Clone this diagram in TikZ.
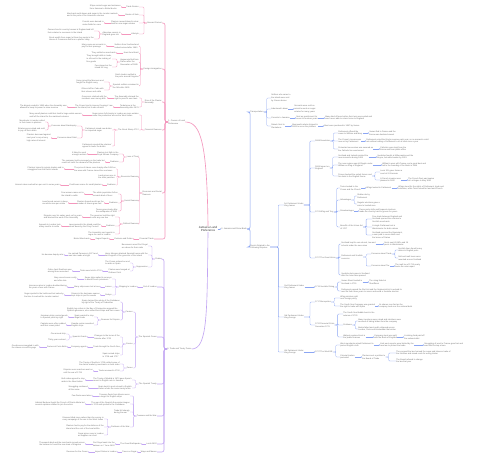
\documentclass[tikz,border=0pt]{standalone}
\usepackage{fontspec}
\setmainfont{Liberation Sans}
\usepackage{xcolor}
\usetikzlibrary{arrows.meta}
\definecolor{ink}{HTML}{707070}
\definecolor{rootink}{HTML}{383838}
\definecolor{pinkc}{HTML}{F497BD}
\definecolor{purpc}{HTML}{C3A6F3}
\definecolor{bluec}{HTML}{8CA6F3}
\tikzset{
  every node/.style={font=\fontsize{2.9}{3.8}\selectfont,text=ink,inner sep=0.3pt,align=left},
  lt/.style={anchor=east},
  rt/.style={anchor=west},
  rootbox/.style={font=\fontsize{4.2}{5}\selectfont,text=rootink,align=center},
  pk/.style={draw=pinkc,line width=0.45pt,rounded corners=1.4pt},
  pu/.style={draw=purpc,line width=0.45pt,rounded corners=1.4pt},
  bl/.style={draw=bluec,line width=0.45pt,rounded corners=1.4pt},
  lvl1/.style={line width=0.9pt,rounded corners=3pt},
  tipped/.style={-{Stealth[length=1.6pt,width=1.8pt]}},
  lbr/.style={to path={-- ++(-#1,0) |- (\tikztotarget)}},
  lbr/.default=3,
  rbr/.style={to path={-- ++(#1,0) |- (\tikztotarget)}},
  rbr/.default=3,
}
\begin{document}
\begin{tikzpicture}[x=0.05cm,y=-0.05cm]
  \fill[white] (0,0) rectangle (500,459);
  \useasboundingbox (0,0) rectangle (500,459);

  \node[rootbox] (root) at (208,229) {Jamaica Land\\Preference};
  \node[rt] (p0) at (168,122) {1. Causes of Land\\Preference};
  \node[rt,font=\fontsize{3}{3.8}\selectfont] (b0) at (221,229) {2. Jamaica and Drew Bank};
  \node[rt] (q0) at (167,349) {3. Trade and Treaty Terms};
  \draw[pk,lvl1] (root.north) .. controls +(-1,-80) and +(16,0) .. (p0.east);
  \draw[pu,lvl1] (root.south) .. controls +(-1,80) and +(16,0) .. (q0.east);
  \draw[bl,lvl1,tipped] (root) -- (b0);

  % pink branch
  \node[lt] (p1) at (162,23) {Itinerant Protest};
  \node[lt] (p2) at (162,69) {Foreign Immigration};
  \node[lt] (p3) at (162,102) {Rise of the Planter\\Assembly};
  \node[lt] (p4) at (162,130) {Financial Reasons};
  \node[lt] (p5) at (162,193) {Economic and Social\\Reasons};
  \node[lt] (p6) at (154,239) {Financial Trade};
  \draw[pk,lvl1] (p0.west) to[lbr] (p1.east); \draw[pk,lvl1] (p0.west) to[lbr] (p2.east);
  \draw[pk,lvl1] (p0.west) to[lbr] (p3.east); \draw[pk,lvl1] (p0.west) to[lbr] (p4.east);
  \draw[pk,lvl1] (p0.west) to[lbr] (p5.east); \draw[pk,lvl1] (p0.west) to[lbr] (p6.east);

  \node[lt] (p11) at (139,7) {Trade Routes};
  \node[lt] (p11a) at (121,7) {Ships carried sugar and molasses\\from Jamaica to Bristol docks};
  \node[lt] (p12) at (139,15) {Routes of Sale};
  \node[lt] (p12a) at (118,15) {Merchants sold slaves and sugar in the London markets\\and in the ports of the American colonies};
  \node[lt] (p13) at (139,23) {Planters moved inland to clear\\land for new sugar estates};
  \node[lt] (p13a) at (104,23) {Forests were burned to\\make fields for cane};
  \node[lt] (p14) at (139,34) {Lifestyle};
  \node[lt] (p14a) at (121,34) {Absentee owners in\\England grew rich};
  \node[lt] (p14a1) at (94,31) {Owners lived in country houses in England and left\\their estates to overseers in the island};
  \node[lt] (p14a2) at (94,39) {Great wealth from sugar let them buy seats in the\\House of Commons and form a planter lobby};
  \draw[pk] (p1.west) to[lbr] (p11.east); \draw[pk] (p1.west) to[lbr] (p12.east);
  \draw[pk] (p1.west) to[lbr] (p13.east); \draw[pk] (p1.west) to[lbr] (p14.east);
  \draw[pk,tipped] (p11) -- (p11a); \draw[pk,tipped] (p12) -- (p12a);
  \draw[pk,tipped] (p13) -- (p13a); \draw[pk,tipped] (p14) -- (p14a);
  \draw[pk] (p14a.west) to[lbr] (p14a1.east); \draw[pk] (p14a.west) to[lbr] (p14a2.east);

  \node[lt] (p21) at (139,46) {Settlers from Scotland and\\Ireland arrived after 1660};
  \node[lt] (p21a) at (106,46) {Many came as servants to\\pay for their passage};
  \node[lt] (p22) at (139,53) {Jews from Brazil};
  \node[lt] (p22a) at (116,53) {They settled as merchants};
  \node[lt] (p23) at (139,62) {Huguenots fled from\\France after the\\Revocation of 1685};
  \node[lt] (p23a) at (112,59) {They brought skills in trade,\\in silk and in the making of\\fine goods};
  \node[lt] (p23b) at (112,67) {Few stayed on the\\island for long};
  \node[lt] (p24) at (139,76) {Dutch traders settled in\\the ports around Kingston};
  \node[lt] (p25) at (139,86) {Spanish settlers remained in\\the hills after 1655};
  \node[lt] (p25a) at (104,82) {Some joined the Maroons and\\fought the English army};
  \node[lt] (p25b) at (104,90) {Others left for Cuba with\\their slaves and cattle};
  \draw[pk] (p2.west) to[lbr] (p21.east); \draw[pk] (p2.west) to[lbr] (p22.east);
  \draw[pk] (p2.west) to[lbr] (p23.east); \draw[pk] (p2.west) to[lbr] (p24.east);
  \draw[pk] (p2.west) to[lbr] (p25.east);
  \draw[pk,tipped] (p21) -- (p21a); \draw[pk,tipped] (p22) -- (p22a);
  \draw[pk] (p23.west) to[lbr] (p23a.east); \draw[pk] (p23.west) to[lbr] (p23b.east);
  \draw[pk] (p25.west) to[lbr] (p25a.east); \draw[pk] (p25.west) to[lbr] (p25b.east);

  \node[lt] (p31) at (139,98) {The Assembly claimed the\\right to pass its own laws};
  \node[lt] (p31a) at (107,98) {Governors clashed with the\\members over money bills};
  \node[lt] (p32) at (139,107) {Turbulence in the\\Assembly after 1678};
  \node[lt] (p32a) at (113,107) {The Crown tried to impose Poynings' Law\\on the island, but it was refused};
  \node[lt] (p32b) at (67,107) {The dispute ended in 1680 when the Assembly was\\allowed to keep its power to raise revenue};
  \draw[pk] (p3.west) to[lbr] (p31.east); \draw[pk] (p3.west) to[lbr] (p32.east);
  \draw[pk,tipped] (p31) -- (p31a); \draw[pk,tipped] (p32) -- (p32a); \draw[pk,tipped] (p32a) -- (p32b);

  \node[lt] (p41) at (139,115) {Sugar prices fell sharply in London as more estates\\came into production across the West Indies};
  \node[lt] (p41a) at (82,115) {Many small planters sold their land to large estate owners\\and left the island for the mainland colonies};
  \node[lt] (p42) at (139,130) {The Great Slump 1712};
  \node[lt] (p421) at (112,130) {Parliament raised new duties\\on imported sugar};
  \node[lt] (p4211) at (77,126) {Concerns about Bankruptcy};
  \node[lt] (p42111) at (45,122) {Merchants in London called\\in their loans to planters};
  \node[lt] (p42112) at (45,130) {Estates were seized and sold\\to pay off their debts};
  \node[lt] (p4212) at (77,138) {Concerns about Debt};
  \node[lt] (p4212a) at (51,138) {Planters borrowed against\\next year's crop at very\\high rates of interest};
  \node[lt] (p422) at (112,146) {Parliament rejected the planters'\\appeal to lower the duties};
  \draw[pk] (p4.west) to[lbr] (p41.east); \draw[pk] (p4.west) to[lbr] (p42.east);
  \draw[pk,tipped] (p41) -- (p41a);
  \draw[pk] (p42.west) to[lbr] (p421.east); \draw[pk] (p42.west) to[lbr] (p422.east);
  \draw[pk] (p421.west) to[lbr] (p4211.east); \draw[pk] (p421.west) to[lbr] (p4212.east);
  \draw[pk] (p4211.west) to[lbr] (p42111.east); \draw[pk] (p4211.west) to[lbr] (p42112.east);
  \draw[pk,tipped] (p4212) -- (p4212a);

  \node[lt] (p51) at (139,157) {Loss of Trust};
  \node[lt] (p511) at (119,154) {Planters lost faith in the\\Royal African Company};
  \node[lt] (p511a) at (87,154) {It failed to send\\enough workers};
  \node[lt] (p512) at (119,162) {Problems};
  \node[lt] (p512a) at (105,162) {The company held a monopoly on the trade but\\could not meet the demand of the planters};
  \node[lt] (p52) at (139,177) {Economic Reasons};
  \node[lt] (p521) at (116,169) {The price of slaves rose sharply after 1690 as\\the wars with France closed the sea lanes};
  \node[lt] (p521a) at (64,169) {Planters turned to private traders and to\\smugglers from the Dutch islands};
  \node[lt] (p522) at (116,177) {Land prices rose in\\the older parishes};
  \node[lt] (p523) at (116,185) {Problems};
  \node[lt] (p523a) at (102,185) {Credit was scarce for small planters};
  \node[lt] (p523b) at (60,185) {Interest rates reached ten per cent in some years};
  \node[lt] (p53) at (139,201) {Social Reasons};
  \node[lt] (p531) at (118,194) {The white population fell as\\servants died of fever};
  \node[lt] (p531a) at (84,194) {Few women came out to\\the island to settle};
  \node[lt] (p532) at (118,203) {Problems};
  \node[lt] (p532a) at (104,203) {Planters feared revolts as the\\number of slaves grew fast};
  \node[lt] (p532b) at (68,203) {Laws forced owners to keep\\one white man per estate};
  \node[lt] (p533) at (118,211) {Towns grew slowly after\\the earthquake of 1692};
  \node[lt] (p54) at (139,224) {Political Reasons};
  \node[lt] (p541) at (115,217) {The governor held the right\\to veto any new law};
  \node[lt] (p541a) at (82,217) {Disputes over his salary went on for years\\and blocked the work of the Assembly};
  \node[lt] (p542) at (115,226) {Problems};
  \node[lt] (p542a) at (101,226) {Laws passed in the island could be\\struck down by the Privy Council};
  \node[lt] (p542b) at (61,226) {Appeals to London took\\many months to settle};
  \node[lt] (p543) at (115,234) {The Assembly sent agents to\\argue its case in London};
  \draw[pk] (p5.west) to[lbr] (p51.east); \draw[pk] (p5.west) to[lbr] (p52.east);
  \draw[pk] (p5.west) to[lbr] (p53.east); \draw[pk] (p5.west) to[lbr] (p54.east);
  \draw[pk] (p51.west) to[lbr] (p511.east); \draw[pk] (p51.west) to[lbr] (p512.east);
  \draw[pk,tipped] (p511) -- (p511a); \draw[pk,tipped] (p512) -- (p512a);
  \draw[pk] (p52.west) to[lbr] (p521.east); \draw[pk] (p52.west) to[lbr] (p522.east);
  \draw[pk] (p52.west) to[lbr] (p523.east);
  \draw[pk,tipped] (p521) -- (p521a); \draw[pk,tipped] (p523) -- (p523a); \draw[pk,tipped] (p523a) -- (p523b);
  \draw[pk] (p53.west) to[lbr] (p531.east); \draw[pk] (p53.west) to[lbr] (p532.east);
  \draw[pk] (p53.west) to[lbr] (p533.east);
  \draw[pk,tipped] (p531) -- (p531a); \draw[pk,tipped] (p532) -- (p532a); \draw[pk,tipped] (p532a) -- (p532b);
  \draw[pk] (p54.west) to[lbr] (p541.east); \draw[pk] (p54.west) to[lbr] (p542.east);
  \draw[pk] (p54.west) to[lbr] (p543.east);
  \draw[pk,tipped] (p541) -- (p541a); \draw[pk,tipped] (p542) -- (p542a); \draw[pk,tipped] (p542a) -- (p542b);

  \node[lt] (p6a) at (133,239) {Customs and Duties};
  \node[lt] (p6b) at (109,239) {Sugar Exports};
  \node[lt] (p6c) at (90,239) {Bristol Merchants};
  \draw[pk,tipped] (p6) -- (p6a); \draw[pk,tipped] (p6a) -- (p6b); \draw[pk,tipped] (p6b) -- (p6c);

  % purple branch
  \node[lt] (q1) at (162,259) {Pirates};
  \node[lt] (q2) at (157,287) {Port of London};
  \node[lt] (q3) at (157,337) {The Spanish Crown};
  \node[lt] (q4) at (157,384) {The Spanish Treaty};
  \node[lt] (q5) at (157,416) {Treasure and the War};
  \node[lt] (q6) at (157,444) {Lords 1692};
  \node[lt] (q7) at (157,452) {Ways and Means};
  \draw[pu,lvl1] (q0.west) to[lbr] (q1.east); \draw[pu,lvl1] (q0.west) to[lbr] (q2.east);
  \draw[pu,lvl1] (q0.west) to[lbr] (q3.east); \draw[pu,lvl1] (q0.west) to[lbr] (q4.east);
  \draw[pu,lvl1] (q0.west) to[lbr] (q5.east); \draw[pu,lvl1] (q0.west) to[lbr] (q6.east);
  \draw[pu,lvl1] (q0.west) to[lbr] (q7.east);

  \node[lt] (q11) at (148,246) {Buccaneers used Port Royal\\as a base for their raids};
  \node[lt] (q12) at (148,255) {Henry Morgan attacked Spanish towns with the\\tacit support of the governor of the island};
  \node[lt] (q12a) at (98,255) {He sacked Panama in 1671 and\\was later made a knight};
  \node[lt] (q12b) at (64,255) {He became deputy ruler};
  \node[lt] (q13) at (148,267) {Suppression};
  \node[lt] (q131) at (130,263) {The Crown ordered an end\\to raids on Spain};
  \node[lt] (q132) at (130,271) {Pirates were hanged at\\Gallows Point};
  \node[lt] (q132a) at (102,271) {Trials were held in 1720};
  \node[lt] (q132b) at (72,271) {Calico Jack Rackham was\\among those executed};
  \draw[pu] (q1.west) to[lbr] (q11.east); \draw[pu] (q1.west) to[lbr] (q12.east);
  \draw[pu] (q1.west) to[lbr] (q13.east);
  \draw[pu,tipped] (q12) -- (q12a); \draw[pu,tipped] (q12a) -- (q12b);
  \draw[pu] (q13.west) to[lbr] (q131.east); \draw[pu] (q13.west) to[lbr] (q132.east);
  \draw[pu,tipped] (q132) -- (q132a); \draw[pu,tipped] (q132a) -- (q132b);

  \node[lt] (q2a) at (137,287) {Shipping to London};
  \node[lt] (q2a1) at (112,279) {Sugar ships sailed in convoys\\to avoid French privateers};
  \node[lt] (q2a1a) at (77,279) {Navy escorts were costly\\and often late};
  \node[lt] (q2a2) at (112,287) {Losses};
  \node[lt] (q2a2a) at (100,287) {Many ships were lost at sea};
  \node[lt] (q2a2b) at (67,287) {Insurance rates in London doubled during\\the years of war with France};
  \node[lt] (q2a3) at (112,295) {Delays};
  \node[lt] (q2a3a) at (100,295) {Storms in the hurricane season\\kept ships in port for weeks};
  \node[lt] (q2a3b) at (64,295) {Sugar spoiled in the holds and lost value by\\the time it reached the London market};
  \draw[pu,tipped] (q2) -- (q2a);
  \draw[pu] (q2a.west) to[lbr] (q2a1.east); \draw[pu] (q2a.west) to[lbr] (q2a2.east);
  \draw[pu] (q2a.west) to[lbr] (q2a3.east);
  \draw[pu,tipped] (q2a1) -- (q2a1a); \draw[pu,tipped] (q2a2) -- (q2a2a); \draw[pu,tipped] (q2a2a) -- (q2a2b);
  \draw[pu,tipped] (q2a3) -- (q2a3a); \draw[pu,tipped] (q2a3a) -- (q2a3b);

  \node[lt] (q31) at (133,312) {Causes};
  \node[lt] (q311) at (120,302) {Spain claimed the whole of the Caribbean\\by right of the Treaty of Tordesillas};
  \node[lt] (q312) at (120,310) {English log cutters in the Bay of Campeche angered the\\Spanish governors, who seized their ships and their crews};
  \node[lt] (q313) at (120,320) {Reasons for Dispute};
  \node[lt] (q3131) at (94,317) {Spain wanted to stop\\illegal trade};
  \node[lt] (q3131a) at (68,317) {Jamaican ships carried goods\\to Spanish ports by night};
  \node[lt] (q3132) at (94,325) {Guarda costas searched\\English ships};
  \node[lt] (q3132a) at (66,325) {Captains were often robbed\\and their crews jailed};
  \node[lt] (q32) at (133,344) {Course};
  \node[lt] (q321) at (120,337) {Changes to the terms of the\\Asiento after 1713};
  \node[lt] (q321a) at (87,337) {Spanish Grants};
  \node[lt] (q321a1) at (66,334) {One annual ship};
  \node[lt] (q321a2) at (66,340) {Thirty-year contract};
  \node[lt] (q322) at (120,347) {Trade through the South Sea};
  \node[lt] (q322a) at (87,347) {Company agents};
  \node[lt] (q322b) at (67,347) {Factors at Porto Bello};
  \node[lt] (q322c) at (39,347) {Goods were smuggled in with\\the slaves on each voyage};
  \node[lt] (q323) at (120,355) {Spain seized ships\\in 1718 and 1727};
  \node[lt] (q33) at (133,368) {Peace};
  \node[lt] (q331) at (120,364) {The Treaty of Seville in 1729 settled some of\\the claims made by merchants on both sides};
  \node[lt] (q332) at (120,371) {Trade resumed in 1730};
  \node[lt] (q332a) at (93,371) {Disputes over searches went on\\until the war of 1739};
  \draw[pu] (q3.west) to[lbr] (q31.east); \draw[pu] (q3.west) to[lbr] (q32.east);
  \draw[pu] (q3.west) to[lbr] (q33.east);
  \draw[pu] (q31.west) to[lbr] (q311.east); \draw[pu] (q31.west) to[lbr] (q312.east);
  \draw[pu] (q31.west) to[lbr] (q313.east);
  \draw[pu] (q313.west) to[lbr] (q3131.east); \draw[pu] (q313.west) to[lbr] (q3132.east);
  \draw[pu,tipped] (q3131) -- (q3131a); \draw[pu,tipped] (q3132) -- (q3132a);
  \draw[pu] (q32.west) to[lbr] (q321.east); \draw[pu] (q32.west) to[lbr] (q322.east);
  \draw[pu] (q32.west) to[lbr] (q323.east);
  \draw[pu,tipped] (q321) -- (q321a);
  \draw[pu] (q321a.west) to[lbr] (q321a1.east); \draw[pu] (q321a.west) to[lbr] (q321a2.east);
  \draw[pu,tipped] (q322) -- (q322a); \draw[pu,tipped] (q322a) -- (q322b); \draw[pu,tipped] (q322b) -- (q322c);
  \draw[pu] (q33.west) to[lbr] (q331.east); \draw[pu] (q33.west) to[lbr] (q332.east);
  \draw[pu,tipped] (q332) -- (q332a);

  \node[lt] (q41) at (132,380) {The Treaty of Madrid in 1670 gave Spain's\\assent to English rule in Jamaica};
  \node[lt] (q41a) at (85,380) {Both sides agreed to stop\\raids in the West Indies};
  \node[lt] (q42) at (132,388) {Spain kept its ports closed to English\\traders under the same treaty terms};
  \node[lt] (q42a) at (88,388) {Smuggling continued\\all the same};
  \draw[pu] (q4.west) to[lbr] (q41.east); \draw[pu] (q4.west) to[lbr] (q42.east);
  \draw[pu,tipped] (q41) -- (q41a); \draw[pu,tipped] (q42) -- (q42a);

  \node[lt] (q51) at (130,396) {Treasure fleets from Mexico were\\a target for English ships};
  \node[lt] (q51a) at (92,396) {Few fleets were taken};
  \node[lt] (q52) at (130,404) {The war of the Spanish Succession began\\in 1702 and spread to the Caribbean};
  \node[lt] (q52a) at (85,404) {Admiral Benbow fought the French off Santa Marta but\\several captains refused to join the action};
  \node[lt] (q53) at (130,412) {Trade fell sharply\\during the war};
  \node[lt] (q54) at (130,427) {Problems of the War};
  \node[lt] (q541) at (104,419) {Disease killed more sailors than the enemy in\\every campaign of the war in the West Indies};
  \node[lt] (q542) at (104,427) {Planters had to pay for the defence of the\\island and the cost of the local militia};
  \node[lt] (q543) at (104,435) {Sugar prices rose in London\\as supplies ran short};
  \draw[pu] (q5.west) to[lbr] (q51.east); \draw[pu] (q5.west) to[lbr] (q52.east);
  \draw[pu] (q5.west) to[lbr] (q53.east); \draw[pu] (q5.west) to[lbr] (q54.east);
  \draw[pu,tipped] (q51) -- (q51a); \draw[pu,tipped] (q52) -- (q52a);
  \draw[pu] (q54.west) to[lbr] (q541.east); \draw[pu] (q54.west) to[lbr] (q542.east);
  \draw[pu] (q54.west) to[lbr] (q543.east);

  \node[lt] (q6a) at (141,444) {The Great Earthquake};
  \node[lt] (q6b) at (115,444) {Port Royal sank into the\\harbour on 7 June 1692};
  \node[lt] (q6c) at (85,444) {Thousands died and the merchants moved across\\the harbour to found the new town of Kingston};
  \draw[pu,tipped] (q6) -- (q6a); \draw[pu,tipped] (q6a) -- (q6b); \draw[pu,tipped] (q6b) -- (q6c);
  \node[lt] (q7a) at (137,452) {Taxes on Sugar};
  \node[lt] (q7b) at (117,452) {Import Duties in London};
  \node[lt] (q7c) at (88,452) {Revenue for the Crown};
  \draw[pu,tipped] (q7) -- (q7a); \draw[pu,tipped] (q7a) -- (q7b); \draw[pu,tipped] (q7b) -- (q7c);

  % blue branch
  \node[rt] (b1) at (250,112) {Transportation};
  \node[rt] (b2) at (250,247) {Events Related to the\\Following Disputes};
  \draw[bl,lvl1] (b0.east) to[rbr] (b1.west); \draw[bl,lvl1] (b0.east) to[rbr] (b2.west);

  \node[rt] (b11) at (271,98) {Settlers who came to\\the island were sent\\by Crown decree};
  \node[rt] (b12) at (271,109) {Indentured Labour};
  \node[rt] (b121) at (294,109) {Servants were sold on\\arrival to work on sugar\\estates for many years};
  \node[rt] (b13) at (271,118) {Convicts to Jamaica};
  \node[rt] (b131) at (296,118) {Sent as punishment for\\seven to fourteen years};
  \node[rt] (b132) at (325,118) {Many died of fever before their term was ended and\\were never able to return home to England};
  \node[rt] (b14) at (271,126) {Rebels Sent to\\Plantations};
  \node[rt] (b141) at (292,126) {Monmouth rebels shipped in\\1685 to serve the planters};
  \node[rt] (b142) at (324,126) {Most were pardoned in 1687 by James};
  \draw[bl] (b1.east) to[rbr] (b11.west); \draw[bl] (b1.east) to[rbr] (b12.west);
  \draw[bl] (b1.east) to[rbr] (b13.west); \draw[bl] (b1.east) to[rbr] (b14.west);
  \draw[bl,tipped] (b12) -- (b121); \draw[bl,tipped] (b13) -- (b131); \draw[bl,tipped] (b131) -- (b132);
  \draw[bl,tipped] (b14) -- (b141); \draw[bl,tipped] (b141) -- (b142);

  \node[rt] (b21) at (284,205) {1st Parliament Under\\King James};
  \node[rt] (b22) at (284,287) {2nd Parliament Under\\King James};
  \node[rt] (b23) at (284,317) {3rd Parliament Under\\King George};
  \node[rt] (b24) at (284,352) {4th Parliament Under\\King George};
  \draw[bl] (b2.east) to[rbr=8] (b21.west); \draw[bl] (b2.east) to[rbr=8] (b22.west);
  \draw[bl] (b2.east) to[rbr=8] (b23.west); \draw[bl] (b2.east) to[rbr=8] (b24.west);

  \node[rt] (b211) at (315,141) {1688 Revolution};
  \node[rt] (b212) at (315,168) {1689 Impact on\\England};
  \node[rt] (b213) at (315,212) {1701 Whig and Tory};
  \node[rt] (b214) at (315,258) {1707 The Great Union};
  \draw[bl] (b21.east) to[rbr=6] (b211.west); \draw[bl] (b21.east) to[rbr=6] (b212.west);
  \draw[bl] (b21.east) to[rbr=6] (b213.west); \draw[bl] (b21.east) to[rbr=6] (b214.west);
  \node[rt] (b221) at (315,287) {1715 Jacobite Rising};
  \draw[bl,tipped] (b22) -- (b221);
  \node[rt] (b231) at (315,302) {1717 Monopolies};
  \node[rt] (b232) at (315,325) {1720 Financial Crisis\\December 1721};
  \draw[bl] (b23.east) to[rbr=6] (b231.west); \draw[bl] (b23.east) to[rbr=6] (b232.west);
  \node[rt] (b241) at (315,352) {1727 The Wool Bill};
  \draw[bl,tipped] (b24) -- (b241);

  \node[rt] (c1) at (338,133) {Parliament offered the\\crown to William and Mary};
  \node[rt] (c1a) at (369,133) {James fled to France and the\\throne was declared vacant};
  \node[rt] (c2) at (338,141) {The Crown's income was\\now set by Parliament};
  \node[rt] (c2a) at (366,141) {Parliament voted the King's revenue each year, so no monarch could\\rule without calling a Parliament to sit at least once a year};
  \node[rt] (c3) at (338,149) {Protestant succession was secured as\\the Catholic line was barred};
  \node[rt] (c3a) at (380,149) {Catholics were kept from the\\throne and from public office};
  \draw[bl] (b211.east) to[rbr] (c1.west); \draw[bl] (b211.east) to[rbr] (c2.west);
  \draw[bl] (b211.east) to[rbr] (c3.west);
  \draw[bl,tipped] (c1) -- (c1a); \draw[bl,tipped] (c2) -- (c2a); \draw[bl,tipped] (c3) -- (c3a);

  \node[rt] (c4) at (338,157) {Scotland and Ireland resisted the\\new monarchs during 1689};
  \node[rt] (c4a) at (377,157) {Jacobites fought at Killiecrankie and the\\Boyne, but were beaten by 1691};
  \node[rt] (c5) at (338,165) {The new regime was still fragile under\\William as King of England};
  \node[rt] (c5a) at (382,165) {William's wars with France cost a great deal and\\led to the founding of the Bank in 1694};
  \node[rt] (c6) at (338,176) {France backed the exiled James and\\his claim to the English throne};
  \node[rt] (c6a) at (380,172) {Louis XIV gave James a\\court at St Germain};
  \node[rt] (c6b) at (380,180) {A French invasion was\\planned in 1692};
  \node[rt] (c6b1) at (408,180) {The French fleet was beaten\\at La Hogue in May 1692};
  \draw[bl] (b212.east) to[rbr] (c4.west); \draw[bl] (b212.east) to[rbr] (c5.west);
  \draw[bl] (b212.east) to[rbr] (c6.west);
  \draw[bl,tipped] (c4) -- (c4a); \draw[bl,tipped] (c5) -- (c5a);
  \draw[bl] (c6.east) to[rbr] (c6a.west); \draw[bl] (c6.east) to[rbr] (c6b.west);
  \draw[bl,tipped] (c6b) -- (c6b1);

  \node[rt] (c7) at (340,188) {Tories looked to the\\Crown and the Church};
  \node[rt] (c7a) at (366,188) {Whigs looked to Parliament};
  \node[rt] (c7b) at (398,188) {Whigs stood for the rights of Parliament, trade and\\toleration, while Tories stood for land and Church};
  \node[rt] (c8) at (340,200) {Advantages};
  \node[rt] (c8a) at (357,196) {Stable rule by\\Parliament};
  \node[rt] (c8b) at (357,204) {Regular elections gave a\\voice to landed men};
  \node[rt] (c9) at (340,211) {Disadvantages};
  \node[rt] (c9a) at (359,211) {Fierce party strife and frequent elections\\made the country hard to govern for years};
  \node[rt] (c10) at (340,227) {Benefits of the Union Act\\of 1707};
  \node[rt] (c10a) at (372,219) {Free trade between England and\\Scotland opened the colonies to\\Scottish merchants};
  \node[rt] (c10b) at (372,227) {A single Parliament sat in\\Westminster for both nations};
  \node[rt] (c10c) at (372,235) {Scotland received the Equivalent,\\a sum paid to cover debts and\\the losses of Darien};
  \draw[bl] (b213.east) to[rbr] (c7.west); \draw[bl] (b213.east) to[rbr] (c8.west);
  \draw[bl] (b213.east) to[rbr] (c9.west); \draw[bl] (b213.east) to[rbr] (c10.west);
  \draw[bl,tipped] (c7) -- (c7a); \draw[bl,tipped] (c7a) -- (c7b);
  \draw[bl] (c8.east) to[rbr] (c8a.west); \draw[bl] (c8.east) to[rbr] (c8b.west);
  \draw[bl,tipped] (c9) -- (c9a);
  \draw[bl] (c10.east) to[rbr] (c10a.west); \draw[bl] (c10.east) to[rbr] (c10b.west);
  \draw[bl] (c10.east) to[rbr] (c10c.west);

  \node[rt] (c11) at (341,244) {Scotland kept its own church, law and\\schools under the new union};
  \node[rt] (c11a) at (384,244) {Scots sent 45 MPs and 16\\peers to Westminster};
  \node[rt] (c12) at (341,257) {Parliament and Scottish\\concerns};
  \node[rt] (c12a) at (371,254) {Concerns about Trade};
  \node[rt] (c12a1) at (398,250) {Scottish linen faced heavy\\duties in English ports};
  \node[rt] (c12a2) at (398,258) {Salt and malt taxes were\\resented across Scotland};
  \node[rt] (c12b) at (371,266) {Concerns about Tax};
  \node[rt] (c12b1) at (395,266) {The malt tax of 1713 nearly\\broke the union apart};
  \node[rt] (c13) at (341,275) {Jacobite plots grew in Scotland\\after the union was passed};
  \draw[bl] (b214.east) to[rbr] (c11.west); \draw[bl] (b214.east) to[rbr] (c12.west);
  \draw[bl] (b214.east) to[rbr] (c13.west);
  \draw[bl,tipped] (c11) -- (c11a);
  \draw[bl] (c12.east) to[rbr] (c12a.west); \draw[bl] (c12.east) to[rbr] (c12b.west);
  \draw[bl] (c12a.east) to[rbr] (c12a1.west); \draw[bl] (c12a.east) to[rbr] (c12a2.west);
  \draw[bl,tipped] (c12b) -- (c12b1);

  \node[rt] (c14) at (341,282) {James Stuart landed in\\Scotland in 1715};
  \node[rt] (c14a) at (369,282) {The rising failed at\\Sheriffmuir};
  \node[rt] (c15) at (341,291) {Parliament passed the Riot Act and the Septennial Act to extend its\\own life from three years to seven and avoid a Jacobite election};
  \draw[bl] (b221.east) to[rbr] (c14.west); \draw[bl] (b221.east) to[rbr] (c15.west);
  \draw[bl,tipped] (c14) -- (c14a);

  \node[rt] (c16) at (340,298) {Whig ministers split\\over foreign policy};
  \node[rt] (c17) at (340,306) {The South Sea Company was granted\\the right to trade with Spain};
  \node[rt] (c17a) at (379,306) {Its shares rose fast as the\\company took over the national debt};
  \draw[bl] (b231.east) to[rbr] (c16.west); \draw[bl] (b231.east) to[rbr] (c17.west);
  \draw[bl,tipped] (c17) -- (c17a);

  \node[rt] (c18) at (343,314) {The South Sea Bubble burst in the\\autumn of 1720};
  \node[rt] (c19) at (343,325) {Problems};
  \node[rt] (c19a) at (358,321) {Many investors were ruined and ministers were\\accused of taking bribes from the company};
  \node[rt] (c19b) at (358,329) {Banks failed and credit collapsed across\\London, Paris and Amsterdam that winter};
  \node[rt] (c20) at (343,337) {Walpole restored trust in\\the public finances};
  \node[rt] (c20a) at (374,337) {Company stock was split\\with the Bank of England};
  \node[rt] (c20b) at (404,337) {A sinking fund paid off\\the national debt};
  \draw[bl] (b232.east) to[rbr] (c18.west); \draw[bl] (b232.east) to[rbr] (c19.west);
  \draw[bl] (b232.east) to[rbr] (c20.west);
  \draw[bl] (c19.east) to[rbr] (c19a.west); \draw[bl] (c19.east) to[rbr] (c19b.west);
  \draw[bl,tipped] (c20) -- (c20a); \draw[bl,tipped] (c20a) -- (c20b);

  \node[rt] (c21) at (340,345) {Wool merchants asked Parliament to\\protect English cloth};
  \node[rt] (c21a) at (380,345) {Irish wool exports were limited by the\\new law to protect the trade};
  \node[rt] (c21b) at (424,345) {Smuggling of wool to France grew fast and\\was hard to stop at sea};
  \node[rt] (c22) at (340,357) {Colonial traders\\protested};
  \node[rt] (c22a) at (362,357) {Planters sent a petition to\\the Board of Trade};
  \node[rt] (c22a1) at (396,353) {They argued the law harmed the sugar and tobacco trade of\\the colonies and raised costs for every planter};
  \node[rt] (c22a2) at (396,361) {The Board refused to change\\the law that year};
  \draw[bl] (b241.east) to[rbr] (c21.west); \draw[bl] (b241.east) to[rbr] (c22.west);
  \draw[bl,tipped] (c21) -- (c21a); \draw[bl,tipped] (c21a) -- (c21b);
  \draw[bl,tipped] (c22) -- (c22a);
  \draw[bl] (c22a.east) to[rbr] (c22a1.west); \draw[bl] (c22a.east) to[rbr] (c22a2.west);
\end{tikzpicture}
\end{document}
